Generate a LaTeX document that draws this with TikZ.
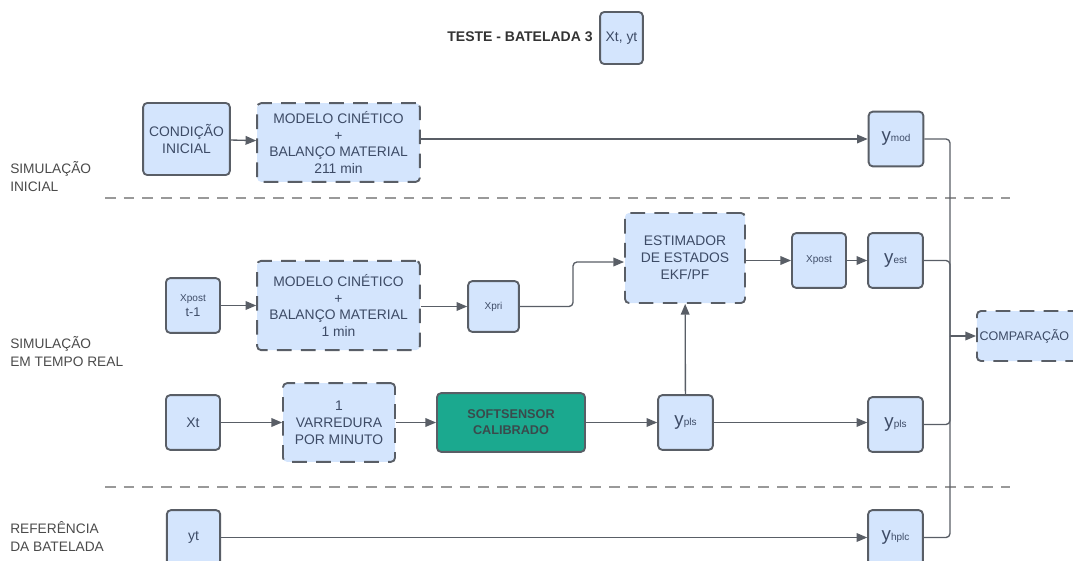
\documentclass[tikz,border=0pt]{standalone}
\usepackage{fontspec}
\setmainfont{Liberation Sans}
\usetikzlibrary{arrows.meta}

\definecolor{boxfill}{HTML}{D4E5FD}
\definecolor{boxline}{HTML}{595E66}
\definecolor{boxtext}{HTML}{3D4B66}
\definecolor{sensorfill}{HTML}{1BA98F}
\definecolor{sensortext}{HTML}{3A4A4C}
\definecolor{lbltext}{HTML}{4A4A4A}

\newcommand{\ysub}[2]{{\fontsize{14}{14}\selectfont #1}{\fontsize{7.5}{8}\selectfont #2}}

\begin{document}
\begin{tikzpicture}[x=0.75pt,y=-0.75pt,
  blk/.style={draw=boxline, fill=boxfill, line width=1.4pt, rounded corners=3pt,
    text=boxtext, align=center, inner sep=1pt, font=\fontsize{10.4}{12.6}\selectfont},
  dblk/.style={blk, dash pattern=on 11pt off 7pt},
  lbl/.style={text=lbltext, align=left, anchor=west, inner sep=0pt,
    font=\fontsize{10.3}{13.5}\selectfont},
  conn/.style={draw=boxline, line width=1pt, -{Triangle[length=8pt,width=6.5pt]}},
  plain/.style={draw=boxline, line width=1pt},
  sep/.style={draw=gray!80, line width=1.1pt, dash pattern=on 8pt off 6pt}]
  \useasboundingbox (0,0) rectangle (1073,560);
  \clip (0,0) rectangle (1073,560);

  % Title
  \node[font=\bfseries\fontsize{10.5}{12}\selectfont, text=black!80] (title) at (520,37) {TESTE - BATELADA 3};
  \node[blk, minimum width=32pt, minimum height=39pt] (xtyt) at (621.5,38) {Xt, yt};

  % Row labels
  \node[lbl] (lini) at (10,177) {SIMULAÇÃO\\INICIAL};
  \node[lbl] (lreal) at (10,352) {SIMULAÇÃO\\EM TEMPO REAL};
  \node[lbl] (lref) at (10,536) {REFERÊNCIA\\DA BATELADA};

  % Separators
  \draw[sep] (105,198) -- (1010,198);
  \draw[sep] (105,487) -- (1010,487);

  % Initial simulation
  \node[blk, minimum width=65pt, minimum height=54pt] (cond) at (186.5,139) {CONDIÇÃO\\INICIAL};
  \node[dblk, minimum width=122pt, minimum height=59pt] (modA) at (338.5,142.5)
    {MODELO CINÉTICO\\+\\BALANÇO MATERIAL\\211 min};
  \node[blk, minimum width=41pt, minimum height=41pt] (ymod) at (896,139) {\ysub{y}{mod}};

  % Real time simulation
  \node[blk, minimum width=40.5pt, minimum height=41pt, font=\fontsize{9.5}{11}\selectfont] (xprev) at (193,305.5)
    {{\fontsize{7.5}{9}\selectfont Xpost}\\t-1};
  \node[dblk, minimum width=122pt, minimum height=67pt] (modB) at (338.5,305.5)
    {MODELO CINÉTICO\\+\\BALANÇO MATERIAL\\1 min};
  \node[blk, minimum width=38pt, minimum height=38pt, font=\fontsize{7.5}{9}\selectfont] (xpri) at (493.5,306.5) {Xpri};
  \node[dblk, minimum width=90pt, minimum height=67.5pt] (est) at (685,258)
    {ESTIMADOR\\DE ESTADOS\\EKF/PF};
  \node[blk, minimum width=40.5pt, minimum height=41pt, font=\fontsize{7.5}{9}\selectfont] (xpost) at (819,260.5) {Xpost};
  \node[blk, minimum width=41pt, minimum height=41pt] (yest) at (895.5,260.5) {\ysub{y}{est}};

  \node[blk, minimum width=40.5pt, minimum height=41pt, font=\fontsize{10.5}{12}\selectfont] (xt) at (193,422.5) {Xt};
  \node[dblk, minimum width=84pt, minimum height=59pt] (varr) at (339,422.5)
    {1\\VARREDURA\\POR MINUTO};
  \node[blk, fill=sensorfill, text=sensortext, minimum width=111pt, minimum height=44pt,
    font=\bfseries\fontsize{9.5}{12}\selectfont] (soft) at (511,422.5) {SOFTSENSOR\\CALIBRADO};
  \node[blk, minimum width=41pt, minimum height=41pt] (ypls) at (685.5,422.5) {\ysub{y}{pls}};
  \node[blk, minimum width=41pt, minimum height=41pt] (yplsB) at (895.5,424.5) {\ysub{y}{pls}};

  % Reference
  \node[blk, minimum width=40pt, minimum height=41pt, font=\fontsize{10.5}{12}\selectfont] (yt) at (193.5,537.5) {yt};
  \node[blk, minimum width=41pt, minimum height=41pt] (yhplc) at (895.5,537.5) {\ysub{y}{hplc}};

  % Comparison
  \node[dblk, anchor=west, minimum width=100pt, minimum height=37.5pt, text width=96pt, align=left,
    font=\fontsize{9.4}{12}\selectfont] (comp) at (976,336) {COMPARAÇÃO};

  % Connectors
  \draw[conn] (cond) -- (modA);
  \draw[conn] (modA.east |- ymod) -- (ymod);
  \draw[conn] (xprev) -- (modB);
  \draw[conn] (modB.east |- xpri) -- (xpri);
  \coordinate (bend) at (573,262);
  \draw[conn, rounded corners=3pt] (xpri.east) -| (bend) -- (est.west |- bend);
  \draw[conn] (est.east |- xpost) -- (xpost);
  \draw[conn] (xpost) -- (yest);
  \draw[conn] (xt) -- (varr);
  \draw[conn] (varr) -- (soft);
  \draw[conn] (soft) -- (ypls);
  \draw[conn] (ypls) -- (est);
  \draw[conn] (ypls.east) -- (yplsB.west |- ypls.east);
  \draw[conn] (yt) -- (yhplc);

  % Bus into comparison
  \coordinate (bus) at (950,336);
  \draw[plain, rounded corners=3pt] (ymod.east) -| (bus);
  \draw[plain, rounded corners=3pt] (yest.east) -| (bus);
  \draw[plain, rounded corners=3pt] (yplsB.east) -| (bus);
  \draw[plain, rounded corners=3pt] (yhplc.east) -| (bus);
  \draw[conn] (bus) -- (comp);
\end{tikzpicture}
\end{document}
